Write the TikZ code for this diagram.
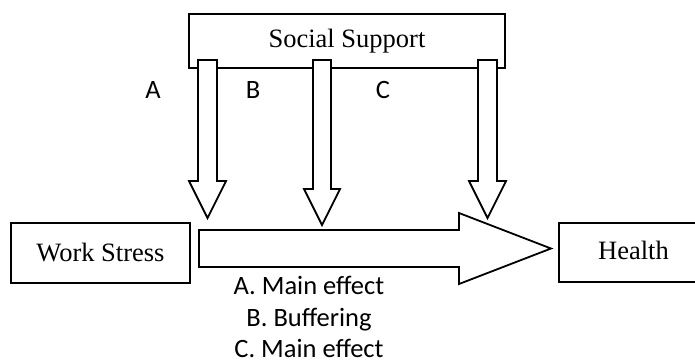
\documentclass[tikz,border=0pt]{standalone}
\usepackage{fontspec}
\setmainfont{Liberation Serif}
\newfontfamily\calibri{Carlito}
\usetikzlibrary{calc}
\tikzset{
  box/.style={draw, fill=white, inner sep=0pt, font=\fontsize{26.5}{30}\selectfont},
  blk/.style={draw, fill=white, line join=miter},
  lbl/.style={font=\calibri\fontsize{26.5}{31.5}\selectfont, inner sep=0pt, align=center}
}
\begin{document}
\begin{tikzpicture}[x=1pt,y=-1pt,line width=1.8pt]
\clip (0,0) rectangle (695,362);
\fill[white] (0,0) rectangle (695,362);
% boxes
\node[box, minimum width=316pt, minimum height=54pt] (ss) at (347,41) {Social Support};
\node[box, minimum width=179pt, minimum height=60pt] (ws) at (100.5,253) {Work Stress};
\node[box, minimum width=150pt, minimum height=59pt, anchor=west] (hl) at (558,252.5) {};
\node[font=\fontsize{26.5}{30}\selectfont, inner sep=0pt] (hlt) at (633.5,250) {Health};
% tips of the vertical arrows
\coordinate (t1) at (207.5,218);
\coordinate (t2) at (322,225);
\coordinate (t3) at (487.5,218);
% vertical block arrows from Social Support
\draw[blk] (t1) ++(-9.5,-158) -- ++(0,121) -- ++(-9,0) -- (t1) -- ++(18.5,-37) -- ++(-9,0) -- ++(0,-121) -- cycle;
\draw[blk] (t2) ++(-9,-165) -- ++(0,129) -- ++(-9,0) -- (t2) -- ++(18,-36) -- ++(-9,0) -- ++(0,-129) -- cycle;
\draw[blk] (t3) ++(-9.5,-158) -- ++(0,121) -- ++(-9,0) -- (t3) -- ++(18.5,-37) -- ++(-9,0) -- ++(0,-121) -- cycle;
% big block arrow from Work Stress to Health
\coordinate (a0) at ($(ws.east)+(8,-4.5)$);
\coordinate (a1) at ($(hl.west)+(-7,-4)$);
\draw[blk] ($(a0)+(0,-18.5)$) -- ($(a1)+(-92,-18.5)$) -- ($(a1)+(-92,-35.5)$) -- (a1)
  -- ($(a1)+(-92,35.5)$) -- ($(a1)+(-92,18.5)$) -- ($(a0)+(0,18.5)$) -- cycle;
% labels
\node[lbl] (la) at (153,90) {A};
\node[lbl] (lb) at (253,90) {B};
\node[lbl] (lc) at (383,90) {C};
\node[lbl] (legend) at (309,317) {A. Main effect\\B. Buffering\\C. Main effect};
\end{tikzpicture}
\end{document}
